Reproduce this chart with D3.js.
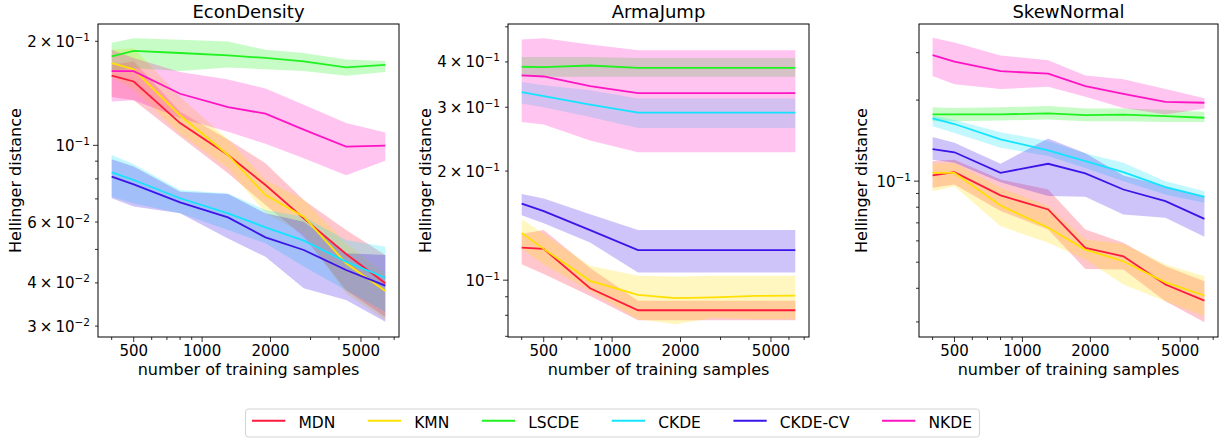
<!DOCTYPE html>
<html lang="en">
<head>
<meta charset="UTF-8">
<title>Hellinger distance vs number of training samples</title>
<script src="https://d3js.org/d3.v7.min.js"></script>
<style>
  html, body { margin: 0; padding: 0; background: #fff; overflow: hidden; }
  svg text { font-family: "DejaVu Sans", sans-serif; fill: #000; }
</style>
</head>
<body>
<svg id="chart" width="1228" height="438"></svg>
<script>
// ---- data ----
const samples = [400, 500, 800, 1300, 1900, 2800, 4300, 6400];
const methods = ["MDN", "KMN", "LSCDE", "CKDE", "CKDE-CV", "NKDE"];
const methodColors = ["#ff1a3d", "#ffe000", "#1ff21f", "#14e4ff", "#3a14e8", "#ff14c4"];
const xTickLabels = [500, 1000, 2000, 5000];

// EconDensity
const econMean = {
  "MDN":     [0.159, 0.153, 0.116, 0.0938, 0.0768, 0.0615, 0.0485, 0.0399],
  "KMN":     [0.173, 0.166, 0.122, 0.0938, 0.0718, 0.0622, 0.0456, 0.0379],
  "LSCDE":   [0.181, 0.1875, 0.185, 0.182, 0.179, 0.175, 0.168, 0.171],
  "CKDE":    [0.0835, 0.0794, 0.0703, 0.0636, 0.0579, 0.0530, 0.0461, 0.0414],
  "CKDE-CV": [0.0812, 0.0771, 0.0684, 0.0619, 0.0542, 0.0498, 0.0436, 0.0393],
  "NKDE":    [0.164, 0.164, 0.141, 0.129, 0.1235, 0.111, 0.0991, 0.0998]
};
const econLo = {
  "MDN":     [0.138, 0.135, 0.106, 0.0830, 0.0672, 0.0544, 0.0381, 0.0319],
  "KMN":     [0.158, 0.145, 0.108, 0.0858, 0.0636, 0.0556, 0.0373, 0.0312],
  "LSCDE":   [0.164, 0.167, 0.164, 0.168, 0.166, 0.164, 0.159, 0.163],
  "CKDE":    [0.0710, 0.0679, 0.0636, 0.0569, 0.0521, 0.0446, 0.0381, 0.0330],
  "CKDE-CV": [0.0703, 0.0665, 0.0636, 0.0538, 0.0476, 0.0386, 0.0357, 0.0309],
  "NKDE":    [0.134, 0.135, 0.120, 0.1095, 0.101, 0.0917, 0.082, 0.0903]
};
const econHi = {
  "MDN":     [0.171, 0.175, 0.125, 0.104, 0.0887, 0.0695, 0.0569, 0.0482],
  "KMN":     [0.189, 0.191, 0.138, 0.104, 0.0794, 0.0695, 0.0521, 0.0426],
  "LSCDE":   [0.198, 0.204, 0.202, 0.1996, 0.189, 0.185, 0.177, 0.1755],
  "CKDE":    [0.0938, 0.0881, 0.0743, 0.0726, 0.0650, 0.0622, 0.0532, 0.0509],
  "CKDE-CV": [0.0911, 0.0868, 0.0734, 0.0723, 0.0636, 0.0601, 0.0487, 0.0482],
  "NKDE":    [0.189, 0.179, 0.163, 0.155, 0.146, 0.131, 0.116, 0.109]
};
const econLabeled = [0.2, 0.1, 0.06, 0.04, 0.03];

// ArmaJump
const armaMean = {
  "MDN":     [0.123, 0.122, 0.095, 0.0826, 0.0826, 0.0826, 0.0826, 0.0826],
  "KMN":     [0.135, 0.122, 0.0996, 0.0911, 0.0892, 0.0896, 0.0905, 0.0907],
  "LSCDE":   [0.388, 0.387, 0.391, 0.385, 0.385, 0.385, 0.385, 0.385],
  "CKDE":    [0.330, 0.322, 0.305, 0.290, 0.290, 0.290, 0.290, 0.290],
  "CKDE-CV": [0.1626, 0.155, 0.1375, 0.121, 0.121, 0.121, 0.121, 0.121],
  "NKDE":    [0.3675, 0.3647, 0.343, 0.328, 0.328, 0.328, 0.328, 0.328]
};
const armaLo = {
  "MDN":     [0.1107, 0.104, 0.0905, 0.0775, 0.0775, 0.0775, 0.0775, 0.0775],
  "KMN":     [0.122, 0.1107, 0.0934, 0.078, 0.0756, 0.0788, 0.078, 0.078],
  "LSCDE":   [0.364, 0.364, 0.364, 0.364, 0.364, 0.364, 0.364, 0.364],
  "CKDE":    [0.307, 0.300, 0.282, 0.263, 0.263, 0.263, 0.263, 0.263],
  "CKDE-CV": [0.151, 0.1435, 0.127, 0.105, 0.105, 0.105, 0.105, 0.105],
  "NKDE":    [0.273, 0.269, 0.243, 0.2255, 0.2255, 0.2255, 0.2255, 0.2255]
};
const armaHi = {
  "MDN":     [0.134, 0.1375, 0.108, 0.0877, 0.0877, 0.0877, 0.0877, 0.0877],
  "KMN":     [0.1475, 0.134, 0.1096, 0.1028, 0.1024, 0.1028, 0.1028, 0.1028],
  "LSCDE":   [0.413, 0.413, 0.413, 0.41, 0.41, 0.41, 0.41, 0.41],
  "CKDE":    [0.352, 0.345, 0.334, 0.317, 0.317, 0.317, 0.317, 0.317],
  "CKDE-CV": [0.173, 0.168, 0.152, 0.1375, 0.1375, 0.1375, 0.1375, 0.1375],
  "NKDE":    [0.461, 0.465, 0.447, 0.431, 0.431, 0.431, 0.431, 0.431]
};
const armaLabeled = [0.4, 0.3, 0.2, 0.1];

// SkewNormal
const skewMean = {
  "MDN":     [0.105, 0.108, 0.0885, 0.0785, 0.0565, 0.0526, 0.0413, 0.036],
  "KMN":     [0.1074, 0.1074, 0.0812, 0.0671, 0.0557, 0.0504, 0.0421, 0.0376],
  "LSCDE":   [0.177, 0.177, 0.177, 0.1785, 0.176, 0.1765, 0.1745, 0.172],
  "CKDE":    [0.171, 0.163, 0.143, 0.130, 0.1187, 0.108, 0.095, 0.0875],
  "CKDE-CV": [0.1315, 0.128, 0.1074, 0.116, 0.1068, 0.0931, 0.0843, 0.0724],
  "NKDE":    [0.294, 0.278, 0.256, 0.251, 0.2255, 0.211, 0.197, 0.1955]
};
const skewLo = {
  "MDN":     [0.0945, 0.0972, 0.0774, 0.0661, 0.0472, 0.047, 0.0358, 0.0299],
  "KMN":     [0.0918, 0.0958, 0.068, 0.059, 0.0512, 0.0413, 0.0358, 0.0315],
  "LSCDE":   [0.167, 0.167, 0.168, 0.1695, 0.167, 0.167, 0.1657, 0.1657],
  "CKDE":    [0.160, 0.151, 0.133, 0.124, 0.112, 0.100, 0.0892, 0.0831],
  "CKDE-CV": [0.120, 0.117, 0.0991, 0.088, 0.0875, 0.0752, 0.0731, 0.0621],
  "NKDE":    [0.246, 0.229, 0.220, 0.224, 0.206, 0.187, 0.177, 0.186]
};
const skewHi = {
  "MDN":     [0.1187, 0.120, 0.1014, 0.0931, 0.0661, 0.059, 0.0483, 0.0425],
  "KMN":     [0.116, 0.117, 0.0945, 0.0807, 0.0607, 0.0585, 0.049, 0.0443],
  "LSCDE":   [0.188, 0.187, 0.188, 0.190, 0.186, 0.186, 0.184, 0.1805],
  "CKDE":    [0.175, 0.1686, 0.152, 0.141, 0.127, 0.117, 0.100, 0.0918],
  "CKDE-CV": [0.146, 0.139, 0.116, 0.144, 0.127, 0.105, 0.0958, 0.088],
  "NKDE":    [0.341, 0.327, 0.293, 0.281, 0.247, 0.239, 0.220, 0.203]
};
const skewLabeled = [0.1];

// ---- layout ----
const plotTop = 24, plotBottom = 337;
const panels = [
  {title: "EconDensity", left: 98,  right: 399,  yDomain: [0.0279, 0.2244], labeled: econLabeled,
   mean: econMean, lo: econLo, hi: econHi, yLabelX: 21},
  {title: "ArmaJump",    left: 508, right: 809,  yDomain: [0.0697, 0.509],  labeled: armaLabeled,
   mean: armaMean, lo: armaLo, hi: armaHi, yLabelX: 431},
  {title: "SkewNormal",  left: 919, right: 1218, yDomain: [0.02637, 0.3834], labeled: skewLabeled,
   mean: skewMean, lo: skewLo, hi: skewHi, yLabelX: 867}
];

const svg = d3.select("#chart");
const logPad = Math.pow(10, 0.05 * Math.log10(samples[samples.length - 1] / samples[0]));

function tickLabel(sel, v) {
  const e = Math.floor(Math.log10(v) + 1e-9);
  const m = Math.round(v / Math.pow(10, e));
  sel.text(m === 1 ? "10" : m + "\u2009\u00d7\u200910");
  sel.append("tspan").attr("dy", -6).attr("font-size", 10.5).text("\u2212" + (-e));
}

panels.forEach(p => {
  const x = d3.scaleLog().domain([samples[0] / logPad, samples[samples.length - 1] * logPad]).range([p.left, p.right]);
  const y = d3.scaleLog().domain(p.yDomain).range([plotBottom, plotTop]);
  const g = svg.append("g");

  const clipId = "clip-" + p.title;
  g.append("clipPath").attr("id", clipId)
    .append("rect").attr("x", p.left).attr("y", plotTop).attr("width", p.right - p.left).attr("height", plotBottom - plotTop);

  const plot = g.append("g").attr("clip-path", `url(#${clipId})`);
  const idx = d3.range(samples.length);

  methods.forEach((m, k) => {
    const area = d3.area()
      .x(i => x(samples[i]))
      .y0(i => y(p.lo[m][i]))
      .y1(i => y(p.hi[m][i]));
    plot.append("path").attr("d", area(idx))
      .attr("fill", methodColors[k]).attr("fill-opacity", 0.25).attr("stroke", "none");
  });
  methods.forEach((m, k) => {
    const line = d3.line().x(i => x(samples[i])).y(i => y(p.mean[m][i]));
    plot.append("path").attr("d", line(idx))
      .attr("fill", "none").attr("stroke", methodColors[k]).attr("stroke-width", 1.8);
  });

  // x ticks
  x.ticks().forEach(t => {
    const major = xTickLabels.includes(t);
    g.append("line").attr("x1", x(t)).attr("x2", x(t)).attr("y1", plotBottom).attr("y2", plotBottom + (major ? 5 : 3))
      .attr("stroke", "#000").attr("stroke-width", 0.8);
    if (major) {
      g.append("text").attr("x", x(t)).attr("y", plotBottom + 19).attr("text-anchor", "middle")
        .attr("font-size", 15).text(t);
    }
  });

  // y ticks
  y.ticks().forEach(t => {
    const lab = p.labeled.some(v => Math.abs(v - t) / v < 1e-6);
    const decade = Math.abs(Math.log10(t) - Math.round(Math.log10(t))) < 1e-6;
    g.append("line").attr("x1", p.left - (decade ? 5 : 3)).attr("x2", p.left).attr("y1", y(t)).attr("y2", y(t))
      .attr("stroke", "#000").attr("stroke-width", 0.8);
    if (lab) {
      g.append("text").attr("x", p.left - 8).attr("y", y(t) + 5.5).attr("text-anchor", "end")
        .attr("font-size", 15).call(tickLabel, t);
    }
  });

  // frame
  g.append("rect").attr("x", p.left).attr("y", plotTop).attr("width", p.right - p.left).attr("height", plotBottom - plotTop)
    .attr("fill", "none").attr("stroke", "#000").attr("stroke-width", 1);

  g.append("text").attr("x", (p.left + p.right) / 2).attr("y", 18.3).attr("text-anchor", "middle")
    .attr("font-size", 18).text(p.title);
  g.append("text").attr("x", (p.left + p.right) / 2).attr("y", 375).attr("text-anchor", "middle")
    .attr("font-size", 16).text("number of training samples");
  g.append("text").attr("transform", `translate(${p.yLabelX},${(plotTop + plotBottom) / 2}) rotate(-90)`)
    .attr("text-anchor", "middle").attr("font-size", 16).text("Hellinger distance");
});

// ---- legend ----
const legend = svg.append("g");
const legendBox = legend.append("rect").attr("x", 245.5).attr("y", 409).attr("width", 738).attr("height", 28)
  .attr("rx", 3).attr("fill", "#fff").attr("stroke", "#d4d4d4").attr("stroke-width", 1);
let lx = 252;
let lastEnd = lx;
methods.forEach((m, k) => {
  legend.append("line").attr("x1", lx).attr("x2", lx + 33.3).attr("y1", 420.7).attr("y2", 420.7)
    .attr("stroke", methodColors[k]).attr("stroke-width", 2);
  const t = legend.append("text").attr("x", lx + 46.4).attr("y", 428)
    .attr("font-size", 15.5).text(m);
  lastEnd = lx + 46.4 + t.node().getComputedTextLength();
  lx = lastEnd + 32.5;
});
legendBox.attr("width", lastEnd + 7.5 - 245.5);
</script>
</body>
</html>
